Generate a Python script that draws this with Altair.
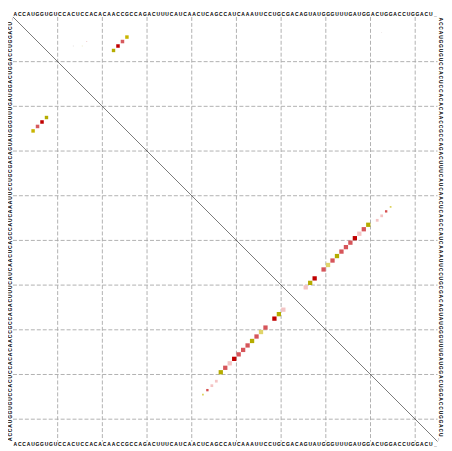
import altair as alt
import pandas as pd

# consensus sequence (95 columns, "_" = gap)
sequence = ("ACCAUGGUGUCCACUCCACACAACCGCCAGACUUUCAUCAACUCAGCC"
            "AUCAAAUUCCUGCGACAGUAUGGGUUUGAUGGACUGGACCUGGACU_")

# base pairs (i < j), probability and alidot colour
pair_i = [5, 6, 7, 8,
          43, 44, 45, 46, 47, 48, 49, 50, 51, 52, 53, 54, 55, 56, 57, 59, 60, 61]
pair_j = [26, 25, 24, 23,
          85, 84, 83, 82, 80, 79, 78, 77, 76, 75, 74, 73, 72, 71, 70, 68, 67, 66]
pair_prob = [0.6, 0.62, 0.62, 0.58,
             0.15, 0.28, 0.38, 0.38, 0.92, 0.92, 0.92, 0.92, 0.92, 0.92, 0.92,
             0.92, 0.92, 0.92, 0.92, 0.92, 0.92, 0.92]
pair_color = ["#c8b400", "#d65a5e", "#c00000", "#b5ac00",
              "#dcd25a", "#d65050", "#f4c4c4", "#f4c4c4", "#b5ac00", "#d6555a",
              "#f4c4c4", "#c00000", "#d6555a", "#d6555a", "#d6555a", "#b5ac00",
              "#d6555a", "#e0d46a", "#d6555a", "#c00000", "#b5ac00", "#f4c4c4"]

# faint low-probability pairs (upper triangle only)
faint_i = [7, 7, 6, 4, 35]
faint_j = [14, 16, 17, 83, 91]
faint_prob = [0.04, 0.04, 0.05, 0.03, 0.03]
faint_color = ["#e2dcdc", "#ebe5bf", "#f0cccc", "#e6dede", "#ece4c0"]

grid_pos = [10, 20, 30, 40, 50, 60, 70, 80, 90]

N = len(sequence)
s = 4.5
W = N * s

xs = alt.Scale(domain=[0, N], nice=False, zero=False)
ys = alt.Scale(domain=[0, N], nice=False, zero=False, reverse=True)
size_scale = alt.Scale(domain=[0, 1], range=[0, s * s])

grid_df = pd.DataFrame({"p": grid_pos, "lo": 0, "hi": N})
vgrid = alt.Chart(grid_df).mark_rule(color="#a8a8a8", strokeWidth=0.9, strokeDash=[4, 2]).encode(
    x=alt.X("p:Q", scale=xs, axis=None),
    y=alt.Y("lo:Q", scale=ys, axis=None),
    y2="hi:Q",
)
hgrid = alt.Chart(grid_df).mark_rule(color="#a8a8a8", strokeWidth=0.9, strokeDash=[4, 2]).encode(
    y=alt.Y("p:Q", scale=ys, axis=None),
    x=alt.X("lo:Q", scale=xs, axis=None),
    x2="hi:Q",
)

diag_df = pd.DataFrame({"p": [0, N]})
diag = alt.Chart(diag_df).mark_line(color="#222222", strokeWidth=0.6).encode(
    x=alt.X("p:Q", scale=xs, axis=None),
    y=alt.Y("p:Q", scale=ys, axis=None),
)

rows = []
for i, j, p, c in zip(pair_i, pair_j, pair_prob, pair_color):
    rows.append({"x": j - 0.5, "y": i - 0.5, "prob": p, "color": c})  # upper
    rows.append({"x": i - 0.5, "y": j - 0.5, "prob": p, "color": c})  # lower
for i, j, p, c in zip(faint_i, faint_j, faint_prob, faint_color):
    rows.append({"x": j - 0.5, "y": i - 0.5, "prob": p, "color": c})
dots_df = pd.DataFrame(rows)
dots = alt.Chart(dots_df).mark_square(filled=True, opacity=1, strokeWidth=0).encode(
    x=alt.X("x:Q", scale=xs, axis=None),
    y=alt.Y("y:Q", scale=ys, axis=None),
    size=alt.Size("prob:Q", scale=size_scale, legend=None),
    color=alt.Color("color:N", scale=None),
)

chars = list(sequence)
k = list(range(1, N + 1))
top_df = pd.DataFrame({"ch": chars, "x": [q - 0.5 for q in k], "y": -0.6})
bot_df = pd.DataFrame({"ch": chars, "x": [q - 0.5 for q in k], "y": N + 0.55})
left_df = pd.DataFrame({"ch": chars, "x": -0.7, "y": [N + 0.5 - q for q in k]})
right_df = pd.DataFrame({"ch": chars, "x": N + 0.85, "y": [q - 0.5 for q in k]})

def seq_layer(df, angle):
    return alt.Chart(df).mark_text(
        font="Liberation Sans", fontSize=5, fontWeight="bold", color="black",
        align="center", baseline="middle", angle=angle,
    ).encode(
        x=alt.X("x:Q", scale=xs, axis=None),
        y=alt.Y("y:Q", scale=ys, axis=None),
        text="ch:N",
    )

chart = alt.layer(
    vgrid, hgrid, diag, dots,
    seq_layer(top_df, 0), seq_layer(bot_df, 0),
    seq_layer(left_df, 270), seq_layer(right_df, 90),
).properties(
    width=W, height=W,
    autosize=alt.AutoSizeParams(type="none"),
    padding={"left": 5, "top": 7.5, "right": 6.5, "bottom": 5.5},
    background="white",
).configure_view(stroke=None)

chart.save("out.html", embed_options={"renderer": "svg", "actions": False})
